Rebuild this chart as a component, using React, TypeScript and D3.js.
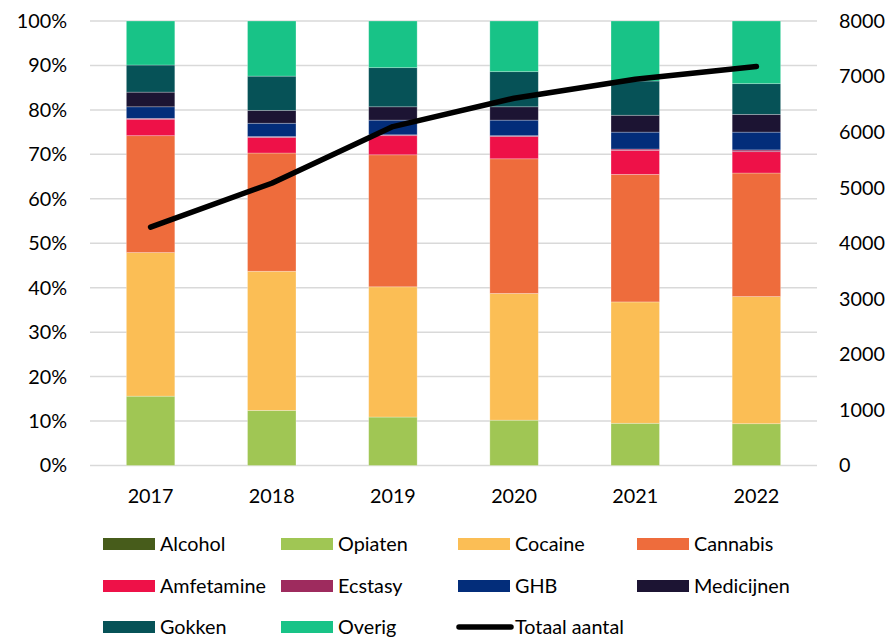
import React from "react";
import * as d3 from "d3";

const years = ["2017", "2018", "2019", "2020", "2021", "2022"];
const seriesNames = ["Alcohol", "Opiaten", "Cocaine", "Cannabis", "Amfetamine", "Ecstasy", "GHB", "Medicijnen", "Gokken", "Overig"];
const seriesColors = ["#475C1B", "#A0C654", "#FBBE55", "#EE6C3C", "#EE1148", "#9E2B5E", "#032D7A", "#1C1433", "#065257", "#18C387"];

const alcohol = [0, 0, 0, 0, 0, 0];
const opiaten = [15.6, 12.4, 10.9, 10.2, 9.5, 9.4];
const cocaine = [32.3, 31.3, 29.3, 28.5, 27.3, 28.6];
const cannabis = [26.3, 26.6, 29.7, 30.3, 28.7, 27.8];
const amfetamine = [3.7, 3.5, 4.3, 5.0, 5.4, 4.8];
const ecstasy = [0.2, 0.2, 0.2, 0.2, 0.3, 0.4];
const ghb = [2.6, 3.0, 3.3, 3.5, 3.8, 4.0];
const medicijnen = [3.3, 2.9, 3.0, 3.0, 3.8, 4.0];
const gokken = [6.1, 7.7, 8.8, 7.9, 7.7, 6.9];
const overig = [9.9, 12.4, 10.5, 11.4, 13.5, 14.1];
const totaalAantal = [4290, 5080, 6100, 6610, 6950, 7180];

const leftTicks = [0, 10, 20, 30, 40, 50, 60, 70, 80, 90, 100];
const rightTicks = [0, 1000, 2000, 3000, 4000, 5000, 6000, 7000, 8000];

const seriesValues = [alcohol, opiaten, cocaine, cannabis, amfetamine, ecstasy, ghb, medicijnen, gokken, overig];

const W = 892;
const H = 639;
const FONT = "Lato, 'Noto Sans', sans-serif";
const FS = 19.8;

export default function App() {
  const x0 = 90, x1 = 817, yTop = 21, yBot = 465.5;
  const x = d3.scaleBand<string>().domain(years).range([x0, x1]).paddingInner(0.6).paddingOuter(0.3);
  const yL = d3.scaleLinear().domain([0, 100]).range([yBot, yTop]);
  const yR = d3.scaleLinear().domain([0, 8000]).range([yBot, yTop]);

  const table = years.map((yr, i) => {
    const row: any = { year: yr };
    seriesNames.forEach((s, k) => (row[s] = seriesValues[k][i]));
    return row;
  });
  const stacked = d3.stack().keys(seriesNames)(table);

  const line = d3
    .line<number>()
    .x((_, i) => (x(years[i]) as number) + x.bandwidth() / 2)
    .y((d) => yR(d));

  const legendItems = [...seriesNames.map((n, k) => ({ name: n, color: seriesColors[k], isLine: false })), { name: "Totaal aantal", color: "#000", isLine: true }];
  const colX = [103, 281, 458, 637];
  const rowY = [544, 586, 627];

  return (
    <svg width={W} height={H} style={{ position: "absolute", left: 0, top: 0 }} fontFamily={FONT}>
      <rect x={0} y={0} width={W} height={H} fill="#fff" />
      {leftTicks.map((t) => (
        <line key={t} x1={x0} x2={x1} y1={yL(t)} y2={yL(t)} stroke="#D9D9D9" strokeWidth={1.5} />
      ))}
      {stacked.map((layer, k) => (
        <g key={layer.key} fill={seriesColors[k]}>
          {layer.map((d, i) =>
            d[1] - d[0] > 0 ? (
              <rect
                key={i}
                x={x(years[i])}
                y={yL(d[1])}
                width={x.bandwidth()}
                height={yL(d[0]) - yL(d[1])}
                stroke="#ffffff"
                strokeOpacity={0.35}
                strokeWidth={0.75}
              />
            ) : null
          )}
        </g>
      ))}
      <path d={line(totaalAantal) || ""} fill="none" stroke="#000" strokeWidth={5.5} strokeLinecap="round" strokeLinejoin="round" />
      {leftTicks.map((t) => (
        <text key={t} x={67} y={yL(t)} dy="0.35em" textAnchor="end" fontSize={FS} fill="#000">
          {t}%
        </text>
      ))}
      {rightTicks.map((t) => (
        <text key={t} x={839} y={yR(t)} dy="0.35em" textAnchor="start" fontSize={FS} fill="#000">
          {t}
        </text>
      ))}
      {years.map((yr) => (
        <text key={yr} x={(x(yr) as number) + x.bandwidth() / 2} y={496} dy="0.35em" textAnchor="middle" fontSize={FS} fill="#000">
          {yr}
        </text>
      ))}
      {legendItems.map((it, idx) => {
        const cx = colX[idx % 4];
        const cy = rowY[Math.floor(idx / 4)];
        return (
          <g key={it.name}>
            {it.isLine ? (
              <line x1={cx + 1} x2={cx + 53} y1={cy} y2={cy} stroke="#000" strokeWidth={5.5} strokeLinecap="round" />
            ) : (
              <rect x={cx} y={cy - 6} width={52} height={12} fill={it.color} />
            )}
            <text x={cx + 57} y={cy} dy="0.35em" fontSize={FS} fill="#000">
              {it.name}
            </text>
          </g>
        );
      })}
    </svg>
  );
}
